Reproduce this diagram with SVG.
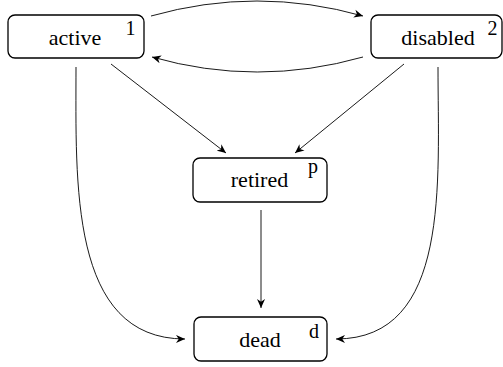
<svg xmlns="http://www.w3.org/2000/svg" width="503" height="367" viewBox="0 0 503 367">
<defs>
<style>
.box{fill:#fff;stroke:#000;stroke-width:1.3}
.name{font-family:"Liberation Serif","DejaVu Serif",serif;font-size:22px;fill:#000;text-anchor:middle}
.tag{font-family:"Liberation Serif","DejaVu Serif",serif;font-size:20px;fill:#000;text-anchor:middle}
.e{fill:none;stroke:#000;stroke-width:0.9}
</style>
<marker id="ah" viewBox="0 0 10 10" refX="10" refY="5" markerWidth="9" markerHeight="9" markerUnits="userSpaceOnUse" orient="auto">
<path d="M0,0.5 L10,5 L0,9.5 L3,5 Z" fill="#000"/>
</marker>
</defs>
<rect width="503" height="367" fill="#fff"/>
<g id="connectors">
<path class="e" d="M151,16 Q257,-14 363,16" marker-end="url(#ah)"/>
<path class="e" d="M363,57 Q257,87 152,57" marker-end="url(#ah)"/>
<path class="e" d="M111,64 L226,153" marker-end="url(#ah)"/>
<path class="e" d="M404,64 L295,153" marker-end="url(#ah)"/>
<path class="e" d="M261,210 L261,308" marker-end="url(#ah)"/>
<path class="e" d="M76,67 C76,182 69,339 185,339" marker-end="url(#ah)"/>
<path class="e" d="M438,67 C438,182 451,339 336,339" marker-end="url(#ah)"/>
</g>
<g id="active">
<rect class="box" x="8" y="15" width="136" height="43" rx="7"/>
<text class="name" x="75" y="45" font-family="Liberation Serif">active</text>
<text class="tag" x="130.5" y="35">1</text>
</g>
<g id="disabled">
<rect class="box" x="371" y="15" width="131" height="43" rx="7"/>
<text class="name" x="438" y="45" font-family="Liberation Serif">disabled</text>
<text class="tag" x="492.5" y="35">2</text>
</g>
<g id="retired">
<rect class="box" x="193" y="158" width="134" height="44" rx="7"/>
<text class="name" x="259.5" y="187" font-family="Liberation Serif">retired</text>
<text class="tag" x="313" y="173">p</text>
</g>
<g id="dead">
<rect class="box" x="194" y="317" width="133" height="44" rx="7"/>
<text class="name" x="260" y="347" font-family="Liberation Serif">dead</text>
<text class="tag" x="314" y="338">d</text>
</g>
</svg>
